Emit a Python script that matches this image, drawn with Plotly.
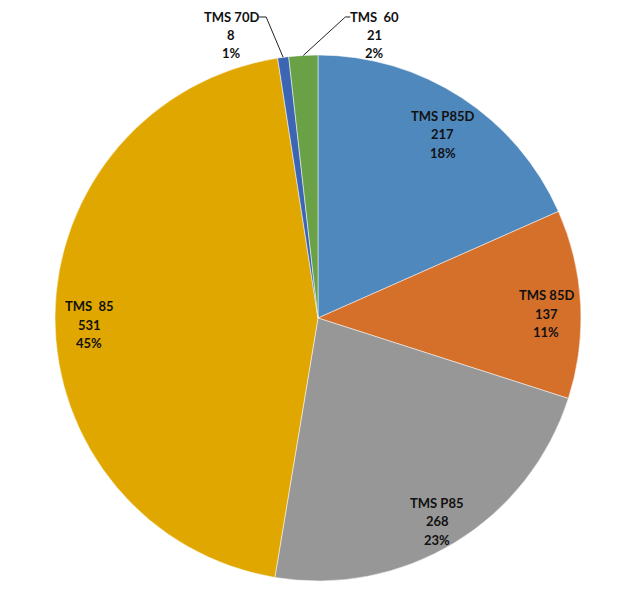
import math
import plotly.graph_objects as go

# Tesla-Modelle
models = ['TMS P85D', 'TMS 85D', 'TMS P85', 'TMS\u00a0\u00a085', 'TMS 70D', 'TMS\u00a0\u00a060']
counts = [217, 137, 268, 531, 8, 21]
pct_labels = ['18%', '11%', '23%', '45%', '1%', '2%']
colors = ['#4F88BD', '#D5702B', '#979797', '#E0A700', '#3C66B4', '#6AA146']

OFF = 8                      # Seitenrand des Browsers
W, H = 629 - OFF, 607 - OFF
cx, cy, R = 318, 318, 263    # Kreis in Fensterpixeln
LH = 18.5                    # Zeilenabstand

def px(x, y):
    return (x - OFF) / W, 1 - (y - OFF) / H

x0, y0 = px(cx - R, cy + R)
x1, y1 = px(cx + R, cy - R)
fig = go.Figure(go.Pie(
    labels=models, values=counts, sort=False, direction='clockwise',
    marker=dict(colors=colors, line=dict(color='white', width=0.5)),
    textinfo='none', hoverinfo='label+value+percent',
    domain=dict(x=[x0, x1], y=[y0, y1]),
))

total = sum(counts)
cum = 0
ann = []
shapes = []
fnt = dict(family='Lato', size=13, color='#111111', weight='bold')
for i in range(len(models)):
    mid = (cum + counts[i] / 2) / total * 2 * math.pi
    cum += counts[i]
    if counts[i] / total > 0.05:
        # Beschriftung innen, nahe dem Rand
        lx = cx + 0.87 * R * math.sin(mid)
        ly = cy - 0.87 * R * math.cos(mid) + 8
        lh = LH
    else:
        # kleine Segmente: Beschriftung oben mit Fuehrungslinie
        tx = cx + R * math.sin(mid)
        ty = cy - R * math.cos(mid)
        if math.sin(mid) < -0.1:
            ex, ey, ux, lx = tx - 17, 17, tx - 24, tx - 52
        else:
            ex, ey, ux, lx = tx + 42, 17, tx + 47, tx + 71
        ly = 35
        lh = 18
        p0 = px(tx, ty); p1 = px(ex, ey); p2 = px(ux, ey)
        shapes.append(dict(type='path', xref='paper', yref='paper',
                           path='M %f,%f L %f,%f L %f,%f' % (p0[0], p0[1], p1[0], p1[1], p2[0], p2[1]),
                           line=dict(color='#222222', width=1)))
    lines = [models[i], str(counts[i]), pct_labels[i]]
    for k, t in enumerate(lines):
        x, y = px(lx, ly + (k - 1) * lh)
        ann.append(dict(x=x, y=y, xref='paper', yref='paper', text=t, showarrow=False,
                        xanchor='center', yanchor='middle', font=fnt))

fig.update_layout(
    width=W, height=H, margin=dict(l=0, r=0, t=0, b=0),
    paper_bgcolor='white', plot_bgcolor='white', showlegend=False,
    annotations=ann, shapes=shapes,
)

fig.write_html("out.html")
